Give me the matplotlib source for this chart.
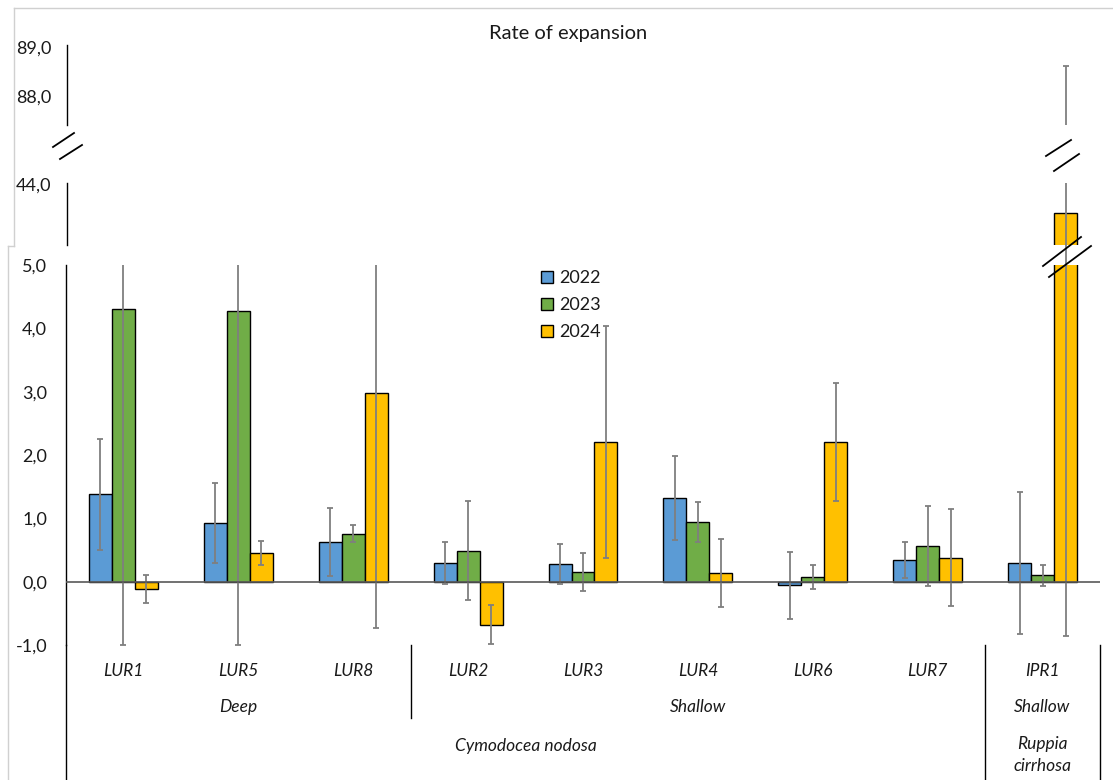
import numpy as np
import matplotlib
matplotlib.use("Agg")
import matplotlib.pyplot as plt
import matplotlib.transforms as mtransforms
from matplotlib.lines import Line2D
from matplotlib.patches import Patch

plt.rcParams['font.family'] = ['Lato', 'DejaVu Sans']

# data (rate of expansion, mean +/- error)
sites = ['LUR1', 'LUR5', 'LUR8', 'LUR2', 'LUR3', 'LUR4', 'LUR6', 'LUR7', 'IPR1']
years = ['2022', '2023', '2024']
v2022 = [1.38, 0.93, 0.63, 0.29, 0.28, 1.32, -0.06, 0.34, 0.30]
e2022 = [0.88, 0.63, 0.54, 0.33, 0.31, 0.66, 0.53, 0.28, 1.12]
v2023 = [4.31, 4.28, 0.76, 0.49, 0.15, 0.94, 0.08, 0.56, 0.10]
e2023 = [5.31, 5.28, 0.14, 0.78, 0.30, 0.31, 0.19, 0.63, 0.17]
v2024 = [-0.11, 0.45, 2.98, -0.68, 2.21, 0.14, 2.20, 0.38, 43.88]
e2024 = [0.22, 0.19, 3.71, 0.31, 1.83, 0.54, 0.93, 0.77, 44.74]
depth_groups = [('Deep', 0, 2), ('Shallow', 3, 7), ('Shallow', 8, 8)]
species_groups = [('Cymodocea nodosa', 0, 7), ('Ruppia\ncirrhosa', 8, 8)]

values = [v2022, v2023, v2024]
errors = [e2022, e2023, e2024]
colors = ['#5B9BD5', '#70AD47', '#FFC000']
ecolor = '#7f7f7f'
tcolor = '#1a1a1a'

W, H = 1113, 780
fig = plt.figure(figsize=(W / 100, H / 100), dpi=100)

def fx(px):
    return px / W

def fy(py):
    return 1 - py / H

ax_low = fig.add_axes([fx(66), fy(645), 1034 / W, 380 / H])
ax_mid = fig.add_axes([fx(67), fy(245), 1033 / W, 62 / H])
ax_top = fig.add_axes([fx(67), fy(125), 1033 / W, 80 / H])

x = np.arange(len(sites))
width = 0.2

def draw(ax):
    for k in range(3):
        xs = x + (k - 1) * width
        ax.bar(xs, values[k], width, color=colors[k], edgecolor='black',
               linewidth=1.0, zorder=2)
        ax.errorbar(xs, values[k], yerr=errors[k], fmt='none', ecolor=ecolor,
                    elinewidth=1.3, capsize=2.5, capthick=1.3, zorder=3)
    ax.set_xlim(-0.5, len(sites) - 0.5)
    ax.set_facecolor('none')
    for s in ['top', 'right', 'bottom']:
        ax.spines[s].set_visible(False)
    ax.spines['left'].set_linewidth(1.0)
    ax.set_xticks([])
    ax.tick_params(axis='y', length=0, labelsize=13, colors=tcolor)

for ax in (ax_low, ax_mid, ax_top):
    draw(ax)

def fmt(vals):
    return [f'{v:.1f}'.replace('.', ',') for v in vals]

ax_low.set_ylim(-1, 5)
ax_low.set_yticks(range(-1, 6))
ax_low.set_yticklabels(fmt(range(-1, 6)))
ax_low.tick_params(axis='y', pad=13.5)
ax_low.axhline(0, color='#595959', lw=1.2, zorder=4)

ax_mid.set_ylim(43.75, 44.005)
ax_mid.set_yticks([44])
ax_mid.set_yticklabels(fmt([44]))
ax_mid.tick_params(axis='y', pad=11.5)

ax_top.set_ylim(87.41, 89.04)
ax_top.set_yticks([88, 89])
ax_top.set_yticklabels(fmt([88, 89]))
ax_top.tick_params(axis='y', pad=11.5)

# category area below the lower axes
bl = mtransforms.blended_transform_factory(ax_low.transData, ax_low.transAxes)

def ya(py):
    return (645 - py) / 380

lab = dict(transform=bl, ha='center', va='center', fontsize=12.5,
           style='italic', color=tcolor)
for i, s in enumerate(sites):
    ax_low.text(i, ya(671), s, **lab)
for name, a, b in depth_groups:
    ax_low.text((a + b) / 2, ya(707), name, **lab)
for name, a, b in species_groups:
    yy = ya(746) if '\n' not in name else ya(755)
    ax_low.text((a + b) / 2, yy, name, linespacing=1.45, **lab)

# separators between groups
for xb, py in [(-0.5, 780), (2.5, 718), (7.5, 780), (8.5, 780)]:
    ax_low.plot([xb, xb], [0, ya(py)], transform=bl, color='black', lw=1.0,
                clip_on=False)

# error line of IPR1 2024 passing through the gap between segments
xi = x[-1] + width
ax_low.plot([xi, xi], [1, ya(245)], transform=bl, color=ecolor, lw=1.3,
            clip_on=False, zorder=3)

# legend
handles = [Patch(facecolor=c, edgecolor='black', linewidth=1.0) for c in colors]
fig.legend(handles, years, loc='upper left', bbox_to_anchor=(fx(541), fy(270)),
           frameon=False, fontsize=13, handlelength=0.65, handleheight=0.65,
           handletextpad=0.35, labelspacing=0.62, borderpad=0, borderaxespad=0,
           labelcolor=tcolor)

# title
fig.text(fx(568), fy(33), 'Rate of expansion', ha='center', va='center',
         fontsize=14.5, color=tcolor)

# axis break marks
def brk(x0, y0, x1, y1):
    fig.add_artist(Line2D([fx(x0), fx(x1)], [fy(y0), fy(y1)], color='black', lw=1.3))

brk(53, 147, 74, 133)
brk(60, 159, 82, 145)
brk(1046, 156, 1071, 140)
brk(1054, 171, 1079, 154)
brk(1043, 266, 1081, 237)
brk(1049, 277, 1091, 246)

# frame lines of the pasted panels
def frame(x0, y0, x1, y1):
    fig.add_artist(Line2D([fx(x0), fx(x1)], [fy(y0), fy(y1)], color='#d0d0d0', lw=1.0))

frame(14, 8, W, 8)
frame(14, 8, 14, 246)
frame(8, 246, 14, 246)
frame(8, 246, 8, H)

fig.savefig('out.png', dpi=100)
